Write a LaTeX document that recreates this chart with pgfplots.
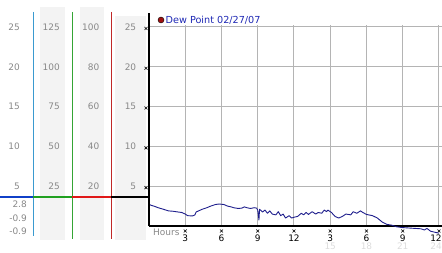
\documentclass[border=0pt]{standalone}
\usepackage{pgfplots}
\pgfplotsset{compat=1.18}
\usepackage{fontspec}
\setmainfont{DejaVu Sans}
\definecolor{lab}{HTML}{888888}
\definecolor{bgc}{HTML}{F3F3F3}
\definecolor{gridc}{HTML}{B4B4B4}
\definecolor{cblue}{HTML}{3A9AD0}
\definecolor{cgreen}{HTML}{35A535}
\definecolor{cred}{HTML}{C02828}
\definecolor{bblue}{HTML}{1040C8}
\definecolor{bgreen}{HTML}{20A020}
\definecolor{bred}{HTML}{E01818}
\definecolor{navy}{HTML}{1E1E8C}
\definecolor{legt}{HTML}{1E28B4}
\definecolor{faint}{HTML}{DCDCDC}
\definecolor{dotc}{HTML}{A01010}
\newcommand\xc{\tikz\draw[black,line width=0.6bp](0,0)--(3bp,3bp)(0,3bp)--(3bp,0);}
\newcommand\fs{\fontsize{9}{9}\selectfont}
\begin{document}
\begin{tikzpicture}
\useasboundingbox (0,0) rectangle (442bp,253bp);
\begin{scope}[x=1bp,y=1bp]
\fill[bgc] (40,13) rectangle (65,246);
\fill[bgc] (80,13) rectangle (104,246);
\fill[bgc] (115,13) rectangle (146,237);
\draw[cblue, line width=1bp] (33,241)--(33,17);
\draw[cgreen, line width=1bp] (72,241)--(72,14);
\draw[cred, line width=1bp] (111,241)--(111,14);
\draw[bblue, line width=2bp] (0,56)--(33,56);
\draw[bgreen, line width=2bp] (33,56)--(72,56);
\draw[bred, line width=2bp] (72,56)--(111,56);
\draw[black, line width=2bp] (111,56)--(149,56);
\foreach \v/\y in {25/226,20/186.2,15/146.4,10/106.6,5/66.8}{
  \node[anchor=east, text=lab, inner sep=0pt, font=\fs] at (20,\y) {\v};
}
\foreach \v/\y in {125/226,100/186.2,75/146.4,50/106.6,25/66.8}{
  \node[anchor=east, text=lab, inner sep=0pt, font=\fs] at (60,\y) {\v};
}
\foreach \v/\y in {100/226,80/186.2,60/146.4,40/106.6,20/66.8}{
  \node[anchor=east, text=lab, inner sep=0pt, font=\fs] at (99.5,\y) {\v};
}
\node[anchor=east, text=lab, inner sep=0pt, font=\fs] at (27,49) {2.8};
\node[anchor=east, text=lab, inner sep=0pt, font=\fs] at (27,35) {-0.9};
\node[anchor=east, text=lab, inner sep=0pt, font=\fs] at (27,21.5) {-0.9};
\node[anchor=west, text=lab, inner sep=0pt, font=\fs] at (153,21) {Hours};
\fill[dotc] (161,233) circle (3);
\draw[black, line width=0.4bp] (161,233) circle (3);
\node[anchor=west, text=legt, inner sep=0pt, font=\fontsize{9.7}{10}\selectfont] at (165.5,233) {Dew Point 02/27/07};
\end{scope}
\begin{axis}[at={(149bp,27bp)}, anchor=south west, scale only axis,
  width=293bp, height=201bp,
  xmin=0, xmax=24.25, ymin=0, ymax=25.25,
  axis x line*=bottom, axis y line*=left,
  axis line style={black, line width=1.5bp, -},
  grid=major, major grid style={gridc, line width=1bp},
  xtick={3,6,...,24},
  xticklabels={{\xc\\3},{\xc\\6},{\xc\\9},{\xc\\12},{\xc\\3},{\xc\\6},{\xc\\9},{\xc\\12\hspace*{6bp}}},
  ytick={5,10,...,25},
  yticklabels={{5\hspace{8bp}\xc},{10\hspace{8bp}\xc},{15\hspace{8bp}\xc},{20\hspace{8bp}\xc},{25\hspace{8bp}\xc}},
  major tick length=0pt, tick style={draw=none},
  clip=false,
  xticklabel style={align=center, anchor=north, inner sep=0pt, yshift=-3bp, font=\fs, text=black},
  yticklabel style={anchor=east, inner sep=0pt, xshift=-1bp, font=\fs, text=lab},
]
\addplot[navy, line width=0.9bp, line join=round] coordinates {
(0.0,2.8) (0.1,2.64) (0.5,2.45) (0.75,2.3) (1.2,2.1) (1.6,1.9) (2.0,1.85)
(2.4,1.76) (2.7,1.7) (3.0,1.5) (3.2,1.3) (3.6,1.26) (3.8,1.4) (3.9,1.76)
(4.4,2.1) (4.8,2.3) (5.1,2.5) (5.5,2.7) (5.8,2.76) (6.2,2.7) (6.5,2.5)
(6.8,2.4) (7.0,2.3) (7.4,2.2) (7.7,2.25) (7.9,2.4) (8.1,2.3) (8.4,2.2)
(8.7,2.3) (8.9,2.25) (9.0,2.0) (9.1,0.75) (9.15,2.1) (9.4,1.76) (9.6,2.0)
(9.8,1.6) (10.0,1.9) (10.2,1.5) (10.5,1.4) (10.7,1.8) (10.9,1.3) (11.1,1.5)
(11.3,1.0) (11.6,1.3) (11.8,1.0) (12.0,1.1) (12.3,1.2) (12.6,1.6) (12.8,1.4)
(13.0,1.7) (13.2,1.45) (13.5,1.8) (13.8,1.5) (14.0,1.7) (14.3,1.6) (14.5,2.0)
(14.7,1.8) (14.8,2.0) (15.1,1.7) (15.4,1.2) (15.7,1.0) (16.0,1.2) (16.3,1.5)
(16.7,1.4) (16.9,1.8) (17.2,1.6) (17.5,1.9) (17.7,1.7) (18.0,1.45) (18.5,1.3)
(18.9,1.0) (19.3,0.5) (19.7,0.2) (20.1,0.1) (20.5,-0.1) (21.0,-0.2) (21.5,-0.25)
(22.0,-0.3) (22.5,-0.35) (22.8,-0.5) (23.0,-0.3) (23.3,-0.65) (23.7,-0.8) (24.0,-0.9)
};
\node[anchor=north, text=faint, font=\fs, inner sep=0pt, yshift=-17bp] at (axis cs:15,0) {15};
\node[anchor=north, text=faint, font=\fs, inner sep=0pt, yshift=-17bp] at (axis cs:18,0) {18};
\node[anchor=north, text=faint, font=\fs, inner sep=0pt, yshift=-17bp] at (axis cs:21,0) {21};
\node[anchor=north east, text=faint, font=\fs, inner sep=0pt, yshift=-17bp, xshift=3bp] at (axis cs:24,0) {24};
\end{axis}
\draw[black, line width=1.5bp] (149bp,27bp)--(149bp,240bp);
\end{tikzpicture}
\end{document}
